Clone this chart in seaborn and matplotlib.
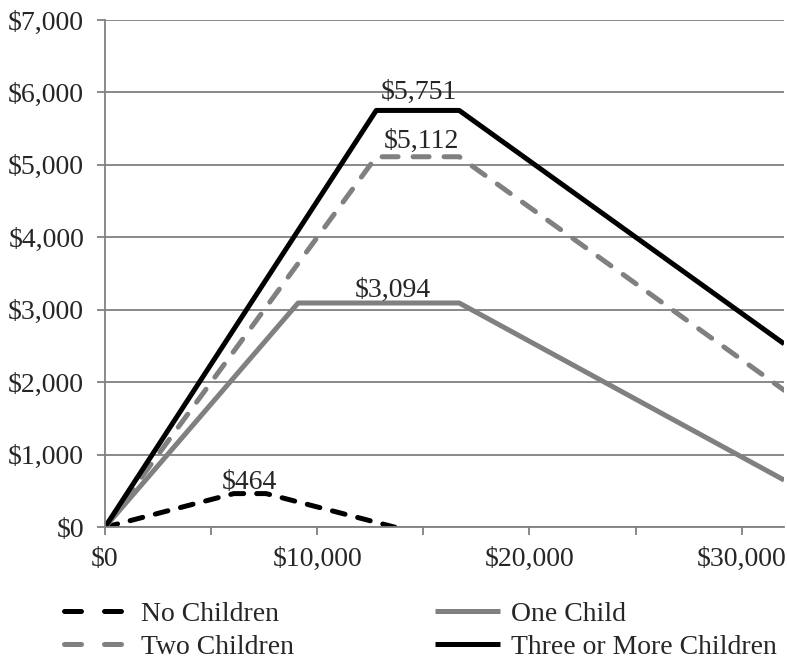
import matplotlib
matplotlib.use("Agg")
import matplotlib.pyplot as plt
import matplotlib.ticker as mticker
import numpy as np
import pandas as pd
import seaborn as sns

# 2011 EITC schedules (earnings vs credit)
series_names = ["No Children", "One Child", "Two Children", "Three or More Children"]
no_children_x = [0, 6070, 7590, 13660]
no_children_y = [0, 464, 464, 0]
one_child_x = [0, 9100, 16690, 32000]
one_child_y = [0, 3094, 3094, 650]
two_children_x = [0, 12780, 16690, 32000]
two_children_y = [0, 5112, 5112, 1890]
three_children_x = [0, 12780, 16690, 32000]
three_children_y = [0, 5751, 5751, 2530]

# peak labels
label_text = ["$464", "$3,094", "$5,112", "$5,751"]
label_x = [6810, 13570, 14930, 14790]
label_y = [464, 3094, 5112, 5751]

frames = []
for name, xs, ys in zip(series_names,
                        [no_children_x, one_child_x, two_children_x, three_children_x],
                        [no_children_y, one_child_y, two_children_y, three_children_y]):
    frames.append(pd.DataFrame({"earnings": xs, "credit": ys, "series": name}))
df = pd.concat(frames, ignore_index=True)

sns.set_style("white")
plt.rcParams["font.family"] = ["Liberation Serif", "DejaVu Serif"]

gray = "#808080"
styles = {
    "No Children": dict(color="black", dashes=(2.6, 2.6)),
    "One Child": dict(color=gray, dashes=None),
    "Two Children": dict(color=gray, dashes=(3.2, 3.0)),
    "Three or More Children": dict(color="black", dashes=None),
}
fs = 20

fig = plt.figure(figsize=(7.87, 6.64), dpi=100)
ax = fig.add_axes([0.1334, 0.206, 0.863, 0.764])

for name in series_names:
    sub = df[df["series"] == name]
    st = styles[name]
    sns.lineplot(data=sub, x="earnings", y="credit", ax=ax, color=st["color"],
                 linewidth=3.6, label=name, sort=False, estimator=None)
    line = ax.lines[-1]
    if st["dashes"] is not None:
        line.set_dashes(st["dashes"])
        line.set_dash_capstyle("round")
    line.set_solid_capstyle("butt")

offsets = [8, 9, 11, 13]
for t, x, y, off in zip(label_text, label_x, label_y, offsets):
    ax.annotate(t, (x, y), xytext=(0, off), textcoords="offset points",
                ha="center", va="center", fontsize=fs)

ax.set_xlim(0, 32000)
ax.set_ylim(0, 7000)
ax.set_xticks([0, 10000, 20000, 30000])
ax.set_xticks([5000, 15000, 25000], minor=True)
ax.set_yticks(np.arange(0, 7001, 1000))
ax.xaxis.set_major_formatter(mticker.FuncFormatter(lambda v, p: f"${v:,.0f}"))
ax.yaxis.set_major_formatter(mticker.FuncFormatter(lambda v, p: f"${v:,.0f}"))
ax.grid(axis="y", color=gray, linewidth=1.3)
ax.set_axisbelow(True)
for s in ["top", "right"]:
    ax.spines[s].set_visible(False)
for s in ["left", "bottom"]:
    ax.spines[s].set_color(gray)
    ax.spines[s].set_linewidth(1.3)
ax.tick_params(axis="both", which="both", direction="out", length=6, width=1.3,
               color=gray, labelsize=fs, bottom=True, left=True)
ax.tick_params(axis="x", pad=8)
ax.tick_params(axis="y", pad=9)
ax.set_xlabel("")
ax.set_ylabel("")

# row-wise legend order: No / One on first row, Two / Three on second
handles, labels = ax.get_legend_handles_labels()
order = [0, 2, 1, 3]
leg = ax.legend([handles[i] for i in order], [labels[i] for i in order], ncol=2,
                frameon=False, fontsize=fs, loc="upper left",
                bbox_to_anchor=(-0.076, -0.125),
                handlelength=2.35, handletextpad=0.4, columnspacing=5.08,
                labelspacing=0.27, borderaxespad=0)
# legend keys show just two dashes
for lh, i in zip(leg.get_lines(), order):
    if styles[series_names[i]]["dashes"] is not None:
        lh.set_dashes((3.4, 4.6))
        lh.set_dash_capstyle("round")

fig.savefig("out.png", dpi=100)
